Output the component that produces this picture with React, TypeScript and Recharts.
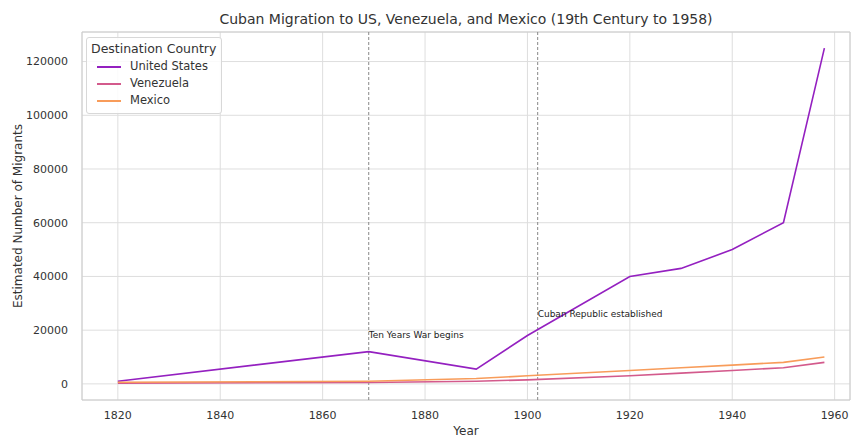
import React from 'react';
import { LineChart, Line, XAxis, YAxis, CartesianGrid, ReferenceLine, ReferenceDot, ReferenceArea, Label } from 'recharts';

const years = [1820, 1869, 1890, 1900, 1920, 1930, 1940, 1950, 1958];
const unitedStates = [1000, 12000, 5500, 18000, 40000, 43000, 50000, 60000, 125000];
const venezuela = [300, 500, 1000, 1500, 3000, 4000, 5000, 6000, 8000];
const mexico = [600, 1000, 2000, 3000, 5000, 6000, 7000, 8000, 10000];

const xTicks = [1820, 1840, 1860, 1880, 1900, 1920, 1940, 1960];
const yTicks = [0, 20000, 40000, 60000, 80000, 100000, 120000];

const events = [
    { year: 1869, labelY: 17000, text: 'Ten Years War begins' },
    { year: 1902, labelY: 25000, text: 'Cuban Republic established' },
];

const series = [
    { key: 'United States', values: unitedStates, color: '#9420c0' },
    { key: 'Venezuela', values: venezuela, color: '#d35a8c' },
    { key: 'Mexico', values: mexico, color: '#f89c5a' },
];

const data = years.map((year, i) => {
    const row: Record<string, number> = { year };
    series.forEach(s => { row[s.key] = s.values[i]; });
    return row;
});

const font = '"DejaVu Sans", sans-serif';

const LegendBox = () => (
    <div style={{
        position: 'absolute', left: 86, top: 37, whiteSpace: 'nowrap',
        border: '1px solid #d8d8d8', borderRadius: 3, background: 'rgba(255,255,255,0.85)',
        padding: '2px 5px 4px 4px', fontFamily: font, fontSize: 11.5, color: '#333', lineHeight: '17px',
    }}>
        <div style={{ fontSize: 12.5, marginBottom: 1 }}>Destination Country</div>
        {series.map(s => (
            <div key={s.key} style={{ display: 'flex', alignItems: 'center' }}>
                <span style={{ display: 'inline-block', width: 24, height: 2, background: s.color, margin: '0 9px 0 6px' }} />
                {s.key}
            </div>
        ))}
    </div>
);

const App = () => (
    <div style={{ position: 'absolute', left: 0, top: 0, width: 851, height: 437, background: '#fff' }}>
        <div style={{ position: 'absolute', top: 11, left: 82, width: 768, textAlign: 'center', fontFamily: font, fontSize: 14, color: '#333' }}>
            Cuban Migration to US, Venezuela, and Mexico (19th Century to 1958)
        </div>
        <LineChart width={851} height={437} data={data} margin={{ top: 32, right: 1, left: 10, bottom: 0 }}>
            <CartesianGrid stroke="#dedede" strokeWidth={1} />
            <ReferenceArea x1={1813} x2={1963} y1={-6000} y2={131000} fill="none" stroke="#cccccc" ifOverflow="extendDomain" />
            <XAxis dataKey="year" type="number" domain={[1813, 1963]} ticks={xTicks} allowDataOverflow
                tickLine={false} axisLine={false} height={37} tickMargin={5}
                tick={{ fontFamily: font, fontSize: 11, fill: '#333' }}>
                <Label value="Year" position="insideBottom" offset={2} style={{ fontFamily: font, fontSize: 12, fill: '#333' }} />
            </XAxis>
            <YAxis type="number" domain={[-6000, 131000]} ticks={yTicks} allowDataOverflow
                tickLine={false} axisLine={false} width={72} tickMargin={8}
                tick={{ fontFamily: font, fontSize: 11, fill: '#333' }}>
                <Label value="Estimated Number of Migrants" angle={-90} position="insideLeft" offset={0} dx={8}
                    style={{ textAnchor: 'middle', fontFamily: font, fontSize: 12, fill: '#333' }} />
            </YAxis>
            {events.map(e => (
                <ReferenceLine key={e.year} x={e.year} stroke="#888" strokeDasharray="3 2" strokeWidth={1} />
            ))}
            {series.map(s => (
                <Line key={s.key} type="linear" dataKey={s.key} stroke={s.color} strokeWidth={1.6} dot={false} isAnimationActive={false} />
            ))}
            {events.map(e => (
                <ReferenceDot key={'t' + e.year} x={e.year} y={e.labelY} r={0}
                    shape={(p: any) => (
                        <text x={p.cx} y={p.cy} fontFamily={font} fontSize={9} fill="#222">{e.text}</text>
                    )} />
            ))}
        </LineChart>
        <LegendBox />
    </div>
);

export default App;
